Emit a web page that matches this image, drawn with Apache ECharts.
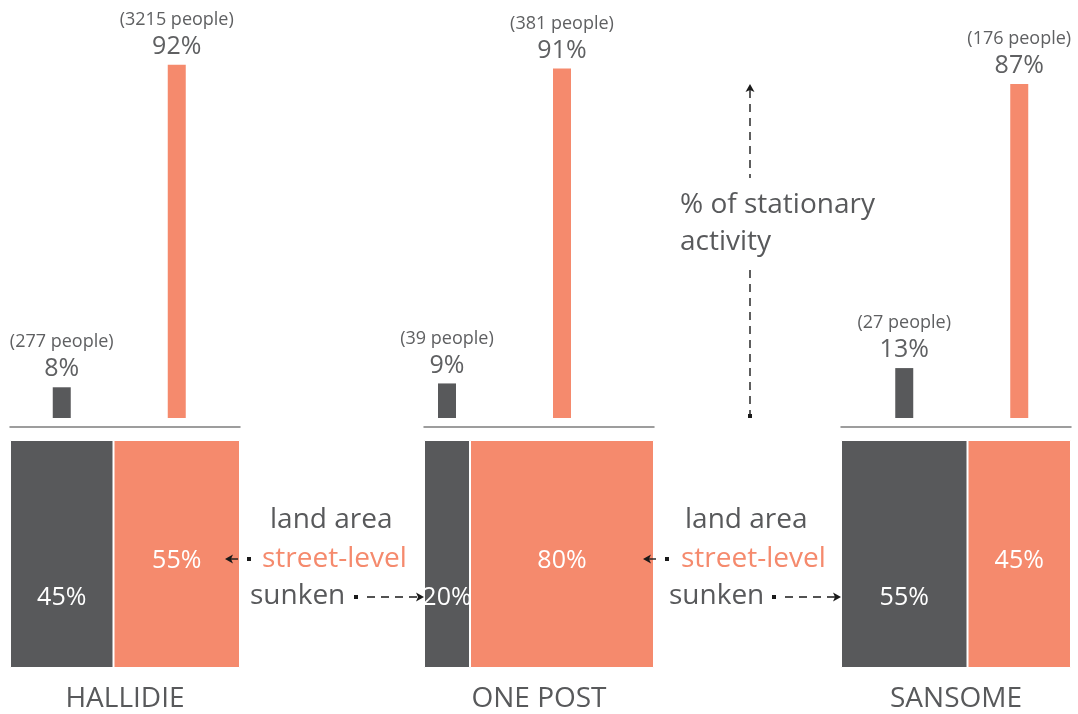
<!DOCTYPE html>
<html>
<head>
<meta charset="utf-8">
<script src="https://cdn.jsdelivr.net/npm/echarts@6/dist/echarts.min.js"></script>
<style>
html,body{margin:0;padding:0;background:#fff;}
#chart{width:1078px;height:714px;}
</style>
</head>
<body>
<div id="chart"></div>
<script>
// ---- data ----
const sites = ['HALLIDIE', 'ONE POST', 'SANSOME'];
const sunkenPct = [8, 9, 13];          // % of stationary activity, sunken
const streetPct = [92, 91, 87];        // % of stationary activity, street-level
const sunkenPeople = [277, 39, 27];
const streetPeople = [3215, 381, 176];
const landSunken = [45, 20, 55];       // % land area, sunken
const landStreet = [55, 80, 45];       // % land area, street-level

// ---- style ----
const DARK = '#58595b';
const SALMON = '#f58a6d';
const TEXT = '#58595b';
const FONT = '"Open Sans", "Noto Sans", sans-serif';
const gridLefts = [10, 424, 841];
const GW = 230;

const grid = [], xAxis = [], yAxis = [], series = [];

sites.forEach((site, i) => {
  // top bar grid (index 2*i), land grid (2*i+1)
  grid.push({ left: gridLefts[i], top: 34, width: GW, height: 384 });
  grid.push({ left: gridLefts[i], top: 440, width: GW, height: 229 });

  xAxis.push({
    type: 'value', gridIndex: 2 * i, min: 0, max: 100, offset: 9,
    axisLine: { show: true, onZero: false, lineStyle: { color: '#7d7d7d', width: 1.5 } },
    axisTick: { show: false }, axisLabel: { show: false }, splitLine: { show: false }
  });
  yAxis.push({ type: 'value', gridIndex: 2 * i, min: 0, max: 100, show: false });

  xAxis.push({
    type: 'value', gridIndex: 2 * i + 1, min: 0, max: 100,
    name: site, nameLocation: 'middle', nameGap: 17,
    nameTextStyle: { fontSize: 28, color: TEXT, fontFamily: FONT },
    axisLine: { show: false }, axisTick: { show: false }, axisLabel: { show: false }, splitLine: { show: false }
  });
  yAxis.push({ type: 'category', gridIndex: 2 * i + 1, data: ['land area'], show: false });

  const topLabel = (people, pct) => ({
    show: true, position: 'top', distance: 3,
    formatter: '{a|(' + people + ' people)}\n{b|' + pct + '%}',
    rich: {
      a: { fontSize: 18, lineHeight: 24, color: '#5f6062', fontFamily: FONT },
      b: { fontSize: 25, lineHeight: 30, color: '#5f6062', fontFamily: FONT }
    }
  });

  series.push({
    name: 'sunken', type: 'bar', xAxisIndex: 2 * i, yAxisIndex: 2 * i,
    barWidth: 18, barGap: '-100%', itemStyle: { color: DARK },
    data: [[landSunken[i] / 2, sunkenPct[i]]],
    label: topLabel(sunkenPeople[i], sunkenPct[i])
  });
  series.push({
    name: 'street-level', type: 'bar', xAxisIndex: 2 * i, yAxisIndex: 2 * i,
    barWidth: 18, barGap: '-100%', itemStyle: { color: SALMON },
    data: [[landSunken[i] + landStreet[i] / 2, streetPct[i]]],
    label: topLabel(streetPeople[i], streetPct[i])
  });

  series.push({
    name: 'sunken land', type: 'bar', xAxisIndex: 2 * i + 1, yAxisIndex: 2 * i + 1,
    stack: 'land' + i, barWidth: '100%',
    itemStyle: { color: DARK, borderColor: '#fff', borderWidth: 1 },
    data: [landSunken[i]],
    label: { show: true, position: 'inside', offset: [0, 44], formatter: '{c}%',
      color: '#fff', fontSize: 25, fontFamily: FONT }
  });
  series.push({
    name: 'street-level land', type: 'bar', xAxisIndex: 2 * i + 1, yAxisIndex: 2 * i + 1,
    stack: 'land' + i, barWidth: '100%',
    itemStyle: { color: SALMON, borderColor: '#fff', borderWidth: 1 },
    data: [landStreet[i]],
    label: { show: true, position: 'inside', offset: [0, 7], formatter: '{c}%',
      color: '#fff', fontSize: 25, fontFamily: FONT }
  });
});

// ---- annotations ----
const ARROW = '#1a1a1a';
function txt(x, y, s, color) {
  return { type: 'text', x: x, y: y, silent: true, z: 100,
    style: { text: s, fill: color, font: '28px ' + FONT, align: 'left', verticalAlign: 'middle',
      textAlign: 'left', textVerticalAlign: 'middle' } };
}
function dash(x1, y1, x2, y2) {
  return { type: 'line', silent: true, z: 100, shape: { x1, y1, x2, y2 },
    style: { stroke: ARROW, lineWidth: 1.4, lineDash: [8, 6] } };
}
function solid(x1, y1, x2, y2) {
  return { type: 'line', silent: true, z: 100, shape: { x1, y1, x2, y2 },
    style: { stroke: ARROW, lineWidth: 1.4 } };
}
function sq(cx, cy) {
  return { type: 'rect', silent: true, z: 100, shape: { x: cx - 2, y: cy - 2, width: 4, height: 4 },
    style: { fill: ARROW } };
}
function head(tx, ty, dir) {
  let pts;
  if (dir === 'r') pts = [[tx, ty], [tx - 8, ty - 4.5], [tx - 6, ty], [tx - 8, ty + 4.5]];
  else if (dir === 'l') pts = [[tx, ty], [tx + 8, ty - 4.5], [tx + 6, ty], [tx + 8, ty + 4.5]];
  else pts = [[tx, ty], [tx - 4.5, ty + 8], [tx, ty + 6], [tx + 4.5, ty + 8]];
  return { type: 'polygon', silent: true, z: 100, shape: { points: pts }, style: { fill: ARROW } };
}

const graphic = [
  // vertical axis-like arrow
  head(750, 84, 'u'), dash(750, 90, 750, 178), dash(750, 270, 750, 414), sq(750, 416),
  txt(680, 205, '% of stationary', TEXT), txt(680, 242, 'activity', TEXT),
  // set 1
  txt(270, 520, 'land area', TEXT), txt(262, 559, 'street-level', SALMON), txt(250, 596, 'sunken', TEXT),
  head(225, 559, 'l'), solid(230, 559, 238, 559), sq(249, 559),
  sq(356, 597), dash(367, 597, 418, 597), head(424, 597, 'r'),
  // set 2
  txt(685, 520, 'land area', TEXT), txt(681, 559, 'street-level', SALMON), txt(669, 596, 'sunken', TEXT),
  head(643, 559, 'l'), solid(648, 559, 656, 559), sq(667, 559),
  sq(774, 597), dash(785, 597, 835, 597), head(841, 597, 'r')
];

const chart = echarts.init(document.getElementById('chart'), null, { renderer: 'canvas' });
chart.setOption({
  animation: false,
  backgroundColor: '#fff',
  textStyle: { fontFamily: FONT },
  grid, xAxis, yAxis, series, graphic
});
</script>
</body>
</html>
